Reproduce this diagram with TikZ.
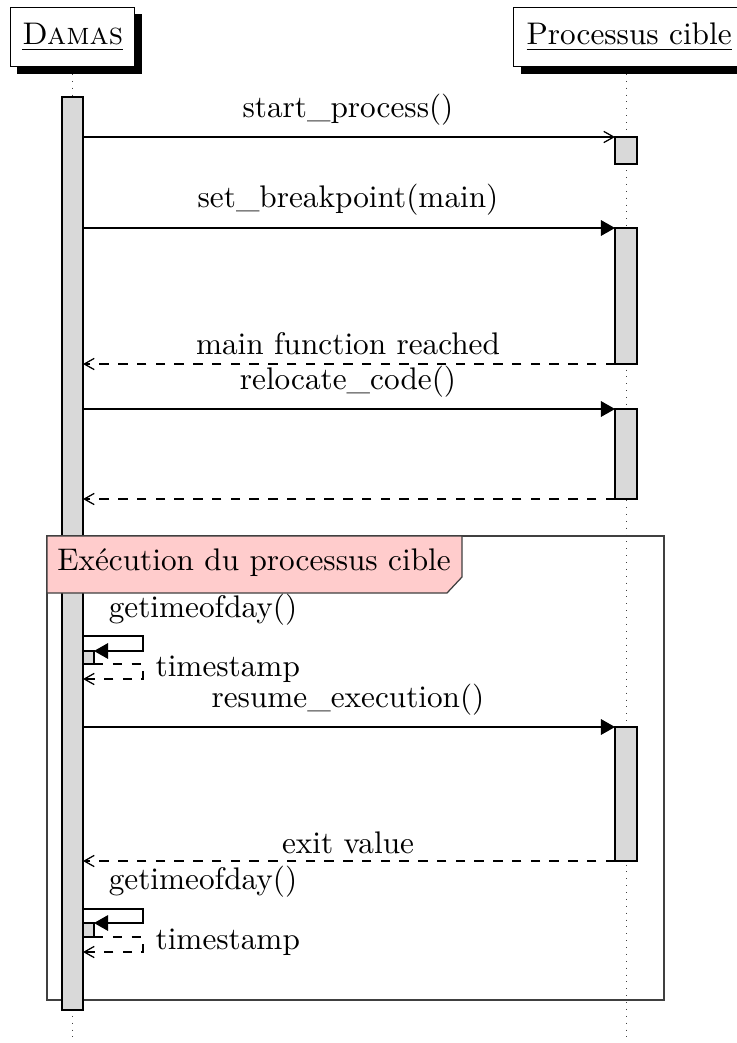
\documentclass[tikz,border=0pt]{standalone}
\usetikzlibrary{arrows.meta}
\begin{document}
\begin{tikzpicture}[x=0.32pt,y=-0.32pt,
  hdr/.style={draw,fill=white,inner sep=0pt,minimum height=59*0.32pt,anchor=north west},
  shadowbox/.style={fill=black},
  life/.style={line width=0.3pt,black!75,dash pattern=on 0.3pt off 1.9pt},
  actbar/.style={draw,fill=black!15},
  call/.style={-{Triangle[length=4.5pt,width=5pt]}},
  acall/.style={-{Straight Barb[length=3.2pt,width=3.6pt]}},
  ret/.style={dashed,-{Straight Barb[length=3.2pt,width=3.6pt]}},
  lbl/.style={inner sep=0pt,font=\normalsize},
  frag/.style={draw,black!75,thin},
  fraglbl/.style={draw,black!75,thin,fill=red!20}
]
\useasboundingbox (0,0) rectangle (737,1043);
% lifelines
\coordinate (dtop) at (72,74);
\coordinate (dbot) at (72,1043);
\coordinate (ptop) at (626,74);
\coordinate (pbot) at (626,1043);
\draw[life] (dtop) -- (dbot);
\draw[life] (ptop) -- (pbot);
% headers with shadows
\fill[shadowbox] (17,14) rectangle (142,74);
\node[hdr,minimum width=124*0.32pt] (damas) at (10,7) {\underline{\textsc{Damas}}};
\fill[shadowbox] (521,14) rectangle (752,74);
\node[hdr,minimum width=231*0.32pt] (proc) at (513,7) {\underline{Processus cible}};
% fragment
\draw[frag] (47,536) rectangle (664,1000);
% main activation of Damas
\draw[actbar] (62,97) rectangle (83,1010);
\draw[frag] (47,536) -- (664,536);
\draw[fraglbl] (47,536) -- (462,536) -- (462,577) -- (447,593) -- (47,593) -- cycle;
\node[lbl] (fl) at (254,563) {Exécution du processus cible};
% activations on target
\draw[actbar] (615,137) rectangle (637,164);
\draw[actbar] (615,228) rectangle (637,364);
\draw[actbar] (615,409) rectangle (637,499);
\draw[actbar] (615,727) rectangle (637,861);
% messages
\coordinate (a1) at (83,137); \coordinate (b1) at (615,137);
\draw[acall] (a1) -- (b1);
\node[lbl] (m1) at (348,110) {start\_process()};
\coordinate (a2) at (83,228); \coordinate (b2) at (615,228);
\draw[call] (a2) -- (b2);
\node[lbl] (m2) at (348,200) {set\_breakpoint(main)};
\coordinate (a3) at (615,364); \coordinate (b3) at (83,364);
\draw[ret] (a3) -- (b3);
\node[lbl] (m3) at (348,344) {main function reached};
\coordinate (a4) at (83,409); \coordinate (b4) at (615,409);
\draw[call] (a4) -- (b4);
\node[lbl] (m4) at (348,382) {relocate\_code()};
\coordinate (a5) at (615,499); \coordinate (b5) at (83,499);
\draw[ret] (a5) -- (b5);
% self call 1
\node[lbl] (s1) at (203,610) {getimeofday()};
\draw[actbar] (83,651) rectangle (94,664);
\coordinate (c1) at (83,636); \coordinate (c2) at (94,651);
\draw[call] (c1) -- (143,636) -- (143,651) -- (c2);
\coordinate (c3) at (94,664); \coordinate (c4) at (83,679);
\draw[ret] (c3) -- (143,664) -- (143,679) -- (c4);
\node[lbl,anchor=west] (t1) at (155,669) {timestamp};
% resume
\coordinate (a6) at (83,727); \coordinate (b6) at (615,727);
\draw[call] (a6) -- (b6);
\node[lbl] (m6) at (348,700) {resume\_execution()};
\coordinate (a7) at (615,861); \coordinate (b7) at (83,861);
\draw[ret] (a7) -- (b7);
\node[lbl] (m7) at (348,843) {exit value};
% self call 2
\node[lbl] (s2) at (203,882) {getimeofday()};
\draw[actbar] (83,923) rectangle (94,937);
\coordinate (d1) at (83,909); \coordinate (d2) at (94,923);
\draw[call] (d1) -- (143,909) -- (143,923) -- (d2);
\coordinate (d3) at (94,937); \coordinate (d4) at (83,952);
\draw[ret] (d3) -- (143,937) -- (143,952) -- (d4);
\node[lbl,anchor=west] (t2) at (155,942) {timestamp};
\end{tikzpicture}
\end{document}
